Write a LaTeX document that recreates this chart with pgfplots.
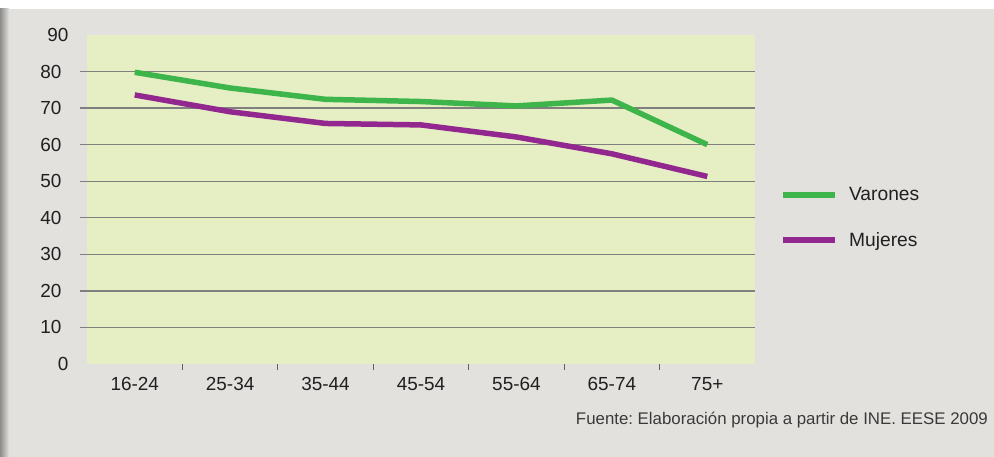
\documentclass[border=0pt]{standalone}
\usepackage{pgfplots}
\pgfplotsset{compat=1.18}
\usepackage{fontspec}
\setmainfont{Liberation Sans}
\frenchspacing
\definecolor{bggray}{HTML}{E2E1DE}
\definecolor{plotbg}{HTML}{E6EFC4}
\definecolor{gridgray}{HTML}{7F7F7F}
\definecolor{tickgray}{HTML}{606060}
\definecolor{vgreen}{HTML}{3DB54A}
\definecolor{mpurple}{HTML}{92278F}
\definecolor{txt}{HTML}{231F20}
\definecolor{srcgray}{HTML}{3A3A3A}
\begin{document}
\begin{tikzpicture}[x=1bp,y=1bp]
\useasboundingbox (0,0) rectangle (994,457);
\fill[white] (0,0) rectangle (994,457);
\fill[bggray] (0,0) rectangle (994,448);
\shade[left color=black!45, right color=bggray] (0,0) rectangle (9,448);
\begin{axis}[
  at={(87bp,93bp)}, anchor=south west,
  scale only axis, width=668bp, height=329bp,
  xmin=-0.5, xmax=6.5, ymin=0, ymax=90,
  axis background/.style={fill=plotbg},
  axis line style={draw=none},
  clip=false,
  xtick pos=bottom, ytick pos=left,
  /pgf/number format/assume math mode=true,
  tick label style={font=\fontsize{19}{22}\selectfont, text=txt},
  xtick={0,...,6},
  xticklabels={16-24,25-34,35-44,45-54,55-64,65-74,75+},
  minor xtick={0.5,1.5,2.5,3.5,4.5,5.5},
  every major x tick/.style={draw=none},
  every minor x tick/.style={draw=tickgray, line width=1.2bp},
  minor tick length=6bp,
  ytick={10,20,...,80},
  major tick length=7bp,
  tick align=outside,
  every major y tick/.style={draw=gridgray, line width=1.3bp},
  ymajorgrids, grid style={draw=gridgray, line width=1.3bp},
  extra y ticks={0,90},
  extra y tick style={grid=none, major tick length=0pt},
  yticklabel style={xshift=-15bp},
  xticklabel style={yshift=-3bp},
  legend style={at={(1.038,0.445)}, anchor=west, draw=none, fill=none, inner sep=0pt,
    font=\fontsize{19.3}{22}\selectfont, text=txt, row sep=26bp, column sep=9bp},
  legend cell align=left,
  legend image code/.code={\draw[#1] (0bp,0bp) -- (52bp,0bp);},
]
\addplot[vgreen, line width=5.5bp, line join=round] coordinates {
  (0,79.8) (1,75.5) (2,72.4) (3,71.8) (4,70.6) (5,72.2) (6,60.0)};
\addlegendentry{Varones}
\addplot[mpurple, line width=5.5bp, line join=round] coordinates {
  (0,73.6) (1,69.0) (2,65.8) (3,65.4) (4,62.1) (5,57.5) (6,51.3)};
\addlegendentry{Mujeres}
\end{axis}
\node[anchor=base east, font=\fontsize{16.9}{19}\selectfont, text=srcgray, inner sep=0pt] at (988,32) {Fuente: Elaboración propia a partir de INE. EESE 2009};
\end{tikzpicture}
\end{document}
